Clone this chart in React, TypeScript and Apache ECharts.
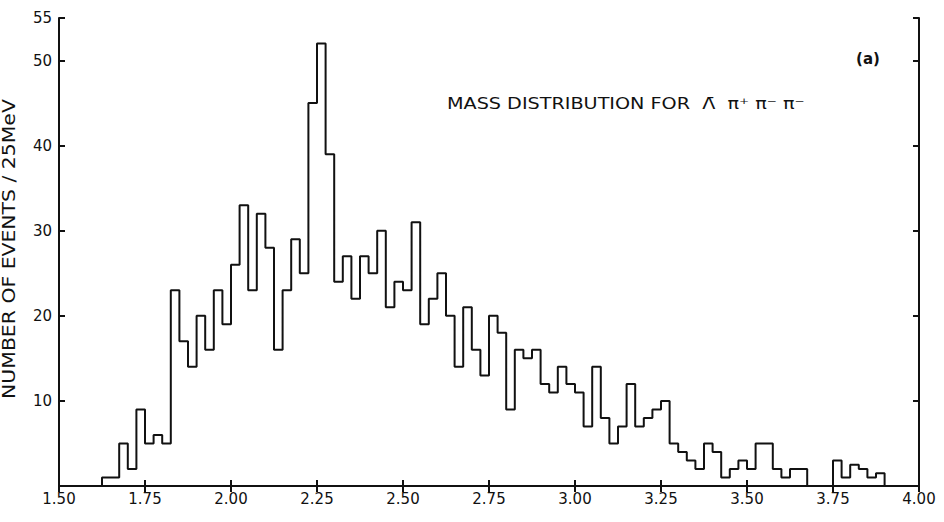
import React, { useEffect, useRef } from "react";
import * as echarts from "echarts";

// Histogram: number of events per 25 MeV bin, bins starting at 1.625 GeV
const BIN_START = 1.625;
const BIN_WIDTH = 0.025;
const COUNTS = [
  1, 1, 5, 2, 9, 5, 6, 5,
  23, 17, 14, 20, 16, 23, 19, 26,
  33, 23, 32, 28, 16, 23, 29, 25,
  45, 52, 39, 24, 27, 22, 27, 25,
  30, 21, 24, 23, 31, 19, 22, 25,
  20, 14, 21, 16, 13, 20, 18, 9,
  16, 15, 16, 12, 11, 14, 12, 11,
  7, 14, 8, 5, 7, 12, 7, 8,
  9, 10, 5, 4, 3, 2, 5, 4,
  1, 2, 3, 2, 5, 5, 2, 1,
  2, 2, 0, 0, 0, 3, 1, 2.5,
  2, 1, 1.5,
];

const X_MIN = 1.5;
const X_MAX = 4.0;
const X_STEP = 0.25;
const Y_MIN = 0;
const Y_MAX = 55;
const Y_STEP = 10;

const Y_TITLE = "NUMBER OF EVENTS / 25MeV";
const NOTE = "MASS DISTRIBUTION FOR  \u039B\u0304  \u03C0\u207A \u03C0\u207B \u03C0\u207B";
const PANEL = "(a)";

const FONT = "DejaVu Sans";
const INK = "#111";

export default function App() {
  const ref = useRef<HTMLDivElement>(null);

  useEffect(() => {
    if (!ref.current) return;
    const chart = echarts.init(ref.current, undefined, { renderer: "svg" });

    const histData: number[][] = [[BIN_START, 0]];
    COUNTS.forEach((c, i) => {
      histData.push([Number((BIN_START + i * BIN_WIDTH).toFixed(3)), c]);
    });
    histData.push([Number((BIN_START + COUNTS.length * BIN_WIDTH).toFixed(3)), 0]);

    const axisLine = { show: true, lineStyle: { color: INK, width: 2 } };

    chart.setOption({
      animation: false,
      backgroundColor: "#ffffff",
      grid: { left: 59, right: 25, top: 18, bottom: 36, containLabel: false },
      xAxis: [
        {
          type: "value",
          position: "bottom",
          min: X_MIN,
          max: X_MAX,
          interval: X_STEP,
          axisLine,
          axisTick: { show: true, inside: true, length: 6, lineStyle: { color: INK, width: 2 } },
          axisLabel: {
            show: true,
            margin: 5,
            color: INK,
            fontFamily: FONT,
            fontSize: 15,
            formatter: (v: number) => v.toFixed(2),
          },
          splitLine: { show: false },
        },
        {
          type: "value",
          position: "top",
          min: X_MIN,
          max: X_MAX,
          interval: X_STEP,
          axisLine,
          axisTick: { show: true, inside: true, length: 6, lineStyle: { color: INK, width: 2 } },
          axisLabel: { show: false },
          splitLine: { show: false },
        },
      ],
      yAxis: [
        {
          type: "value",
          position: "left",
          min: Y_MIN,
          max: Y_MAX,
          interval: Y_STEP,
          axisLine,
          axisTick: { show: true, inside: true, length: 6, lineStyle: { color: INK, width: 2 } },
          axisLabel: {
            show: true,
            margin: 7,
            color: INK,
            fontFamily: FONT,
            fontSize: 15,
            showMaxLabel: true,
            formatter: (v: number) => (v === 0 ? "" : String(v)),
          },
          splitLine: { show: false },
        },
        {
          type: "value",
          position: "right",
          min: Y_MIN,
          max: Y_MAX,
          interval: Y_STEP,
          axisLine,
          axisTick: { show: true, inside: true, length: 6, lineStyle: { color: INK, width: 2 } },
          axisLabel: { show: false },
          splitLine: { show: false },
        },
      ],
      series: [
        {
          type: "line",
          xAxisIndex: 0,
          yAxisIndex: 0,
          step: "end",
          symbol: "none",
          data: histData,
          lineStyle: { color: INK, width: 2 },
          silent: true,
        },
      ],
      graphic: [
        {
          type: "text",
          x: 9,
          y: 249,
          rotation: Math.PI / 2,
          scaleX: 1.2,
          style: {
            text: Y_TITLE,
            fill: INK,
            fontFamily: FONT,
            fontSize: 17,
            textAlign: "center",
            textVerticalAlign: "middle",
          },
        },
        {
          type: "text",
          x: 447,
          y: 104,
          scaleX: 1.2,
          style: {
            text: NOTE,
            fill: INK,
            fontFamily: FONT,
            fontSize: 16,
            textAlign: "left",
            textVerticalAlign: "middle",
          },
        },
        {
          type: "text",
          x: 868,
          y: 59,
          style: {
            text: PANEL,
            fill: INK,
            fontFamily: FONT,
            fontSize: 15,
            fontWeight: "bold",
            textAlign: "center",
            textVerticalAlign: "middle",
          },
        },
      ],
    });

    return () => chart.dispose();
  }, []);

  return (
    <div
      ref={ref}
      style={{ position: "fixed", left: 0, top: 0, width: 944, height: 522, background: "#fff" }}
    />
  );
}
